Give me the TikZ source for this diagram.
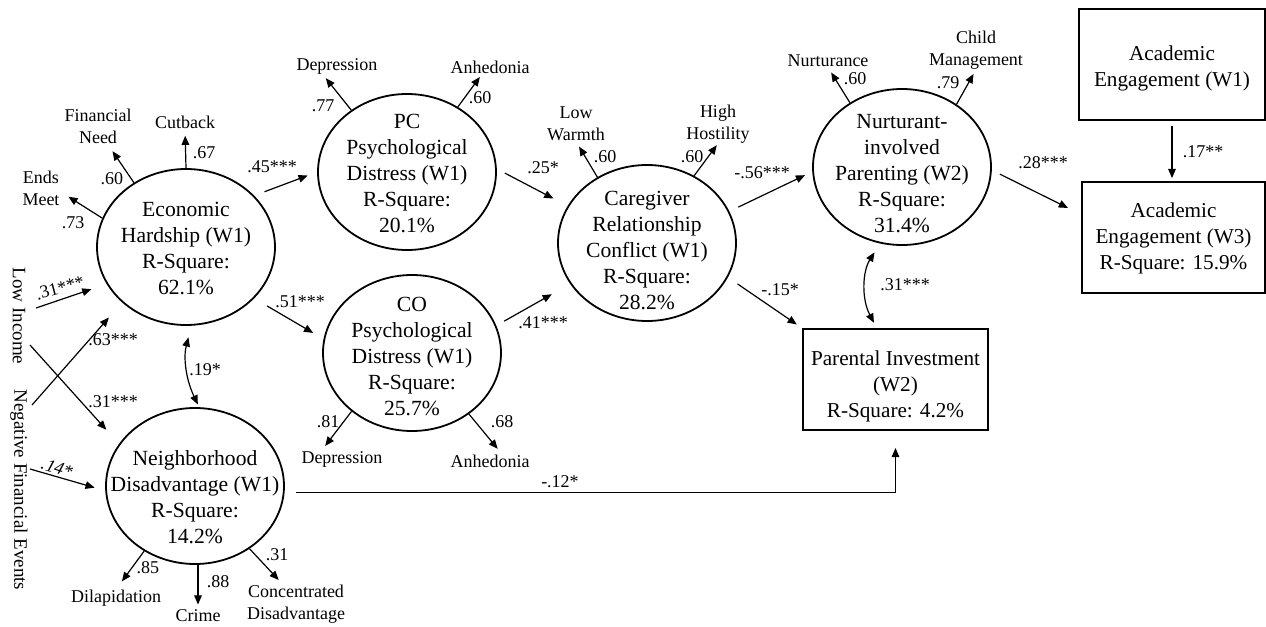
\documentclass[tikz,border=0pt]{standalone}
\usepackage{fontspec}
\setmainfont{Liberation Serif}
\usetikzlibrary{arrows.meta,calc,shapes.geometric}
\tikzset{
  latv/.style={draw, line width=0.9pt, ellipse, minimum width=89pt, minimum height=78pt, inner sep=0pt},
  lattext/.style={align=center, inner sep=0pt, font=\fontsize{10.8}{13}\selectfont},
  obsbox/.style={draw, line width=0.9pt, rectangle, inner sep=0pt, align=center, font=\fontsize{10.6}{13}\selectfont},
  arr/.style={-{Triangle[length=4.6pt,width=3.8pt]}, line width=0.6pt},
  darr/.style={{Triangle[length=4.6pt,width=3.8pt]}-{Triangle[length=4.6pt,width=3.8pt]}, line width=0.6pt},
  coef/.style={inner sep=0pt, font=\fontsize{9}{11}\selectfont},
  ind/.style={inner sep=0pt, align=center, font=\fontsize{9}{11}\selectfont},
  exo/.style={inner sep=0pt, rotate=-90, font=\fontsize{9.5}{11}\selectfont},
}
\begin{document}
\begin{tikzpicture}[x=0.5pt,y=-0.5pt]
\useasboundingbox (0,0) rectangle (1266,627);

% latent variables
\node[latv] (ecoh) at (186,247) {};
\node[lattext] (ecoht) at ([yshift=-0.6pt]ecoh.center) {Economic\\Hardship (W1)\\R-Square:\\62.1\%};
\node[latv] (neigh) at (195,486) {};
\node[lattext] (neight) at ([yshift=-5.5pt]neigh.center) {Neighborhood\\Disadvantage (W1)\\R-Square:\\14.2\%};
\node[latv] (pc) at (407,172) {};
\node[lattext] (pct) at ([yshift=-0.8pt]pc.center) {PC\\Psychological\\Distress (W1)\\R-Square:\\20.1\%};
\node[latv] (co) at (412,353) {};
\node[lattext] (cot) at ([yshift=-1.8pt]co.center) {CO\\Psychological\\Distress (W1)\\R-Square:\\25.7\%};
\node[latv] (care) at (647,243) {};
\node[lattext] (caret) at ([yshift=-3.5pt]care.center) {Caregiver\\Relationship\\Conflict (W1)\\R-Square:\\28.2\%};
\node[latv] (nurt) at (902,167) {};
\node[lattext] (nurtt) at ([yshift=-3.2pt]nurt.center) {Nurturant-\\involved\\Parenting (W2)\\R-Square:\\31.4\%};

% observed boxes
\node[obsbox, minimum width=93pt, minimum height=55.5pt] (ae1) at (1172,64.5) {};
\node[obsbox, draw=none] (ae1t) at ([yshift=-1.8pt]ae1.center) {Academic\\Engagement (W1)};
\node[obsbox, minimum width=91.5pt, minimum height=55.5pt] (ae3) at (1173.5,237.5) {};
\node[obsbox, draw=none] (ae3t) at ([yshift=-0.4pt]ae3.center) {Academic\\Engagement (W3)\\R-Square: 15.9\%};
\node[obsbox, minimum width=92.5pt, minimum height=50.5pt] (parinv) at (895.5,379.5) {};
\node[obsbox, draw=none] (parinvt) at ([yshift=-3.3pt]parinv.center) {Parental Investment\\(W2)\\R-Square: 4.2\%};

% exogenous
\node[exo] (lowinc) at (19,316) {Low Income};
\node[exo] (negfin) at (19,490) {Negative Financial Events};

% indicators
\node[ind] (endsmeet) at (41,188) {Ends\\Meet};
\node[ind] (finneed) at (98,126) {Financial\\Need};
\node[ind] (cutback) at (185,122) {Cutback};
\node[ind] (dilap) at (116,598) {Dilapidation};
\node[ind] (crime) at (198,616) {Crime};
\node[ind] (concdis) at (296,604) {Concentrated\\Disadvantage};
\node[ind] (pcdep) at (337,66) {Depression};
\node[ind] (pcanh) at (490,67) {Anhedonia};
\node[ind] (codep) at (342,459) {Depression};
\node[ind] (coanh) at (490,461) {Anhedonia};
\node[ind] (lowwarm) at (576,124) {Low\\Warmth};
\node[ind] (hihost) at (718,124) {High\\Hostility};
\node[ind] (nurturance) at (828,61) {Nurturance};
\node[ind] (childm) at (976,50) {Child\\Management};

% structural paths
\draw[arr, shorten <=5.5pt, shorten >=5pt] (ecoh.37) -- (pc.180);
\draw[arr, shorten <=7.5pt, shorten >=6pt] (ecoh.-37) -- (co.171);
\draw[arr, shorten <=4.5pt, shorten >=8pt] (pc.2) -- (care.155);
\draw[arr, shorten <=4.5pt, shorten >=10.5pt] (co.18) -- (care.-152);
\draw[arr, shorten <=5pt, shorten >=4pt] (care.21) -- (nurt.183);
\draw[arr, shorten <=5.8pt, shorten >=3.2pt] (care.-23) -- (parinv.north west);
\draw[arr, shorten <=4.5pt, shorten >=7.3pt] (nurt.-2) -- (ae3.166);
\draw[arr, shorten <=2.5pt, shorten >=1.5pt] (ae1.south) -- (ae1.south |- ae3.north);
\draw[darr, shorten <=5.2pt, shorten >=3pt] (nurt.-106) to[bend right=30] (parinv.110);
\draw[darr, shorten <=6pt, shorten >=1.5pt] (ecoh.-86) to[bend right=20] (neigh.87);
\draw[arr, shorten <=5.7pt, shorten >=8.5pt] (neigh.-4.5) -| (parinv.south);

% exogenous paths
\draw[arr, shorten >=8pt] ($(lowinc)+(17,-8)$) -- (ecoh.-155);
\draw[arr, shorten >=9.5pt] ($(lowinc)+(11,29)$) -- (neigh.151);
\draw[arr, shorten >=10pt] ($(negfin)+(13,-85)$) -- (ecoh.-139);
\draw[arr, shorten >=5.5pt] ($(negfin)+(11,-21)$) -- (neigh.-177);

% measurement paths
\draw[arr, shorten >=5pt] (ecoh.161) -- (endsmeet.-10);
\draw[arr, shorten >=4.5pt] (ecoh.129) -- (finneed.-62);
\draw[arr, shorten >=3.5pt] (ecoh.90) -- (cutback.south);
\draw[arr, shorten >=5pt] (neigh.-128) -- (dilap.north);
\draw[arr, shorten >=2.5pt] (crime.north |- neigh.south) -- (crime.north);
\draw[arr, shorten >=3pt] (neigh.-49) -- (concdis.124);
\draw[arr, shorten >=2.5pt] (pc.132) -- (pcdep.-150);
\draw[arr, shorten >=2pt] (pc.52) -- (pcanh.-139);
\draw[arr, shorten >=3pt] (co.-136) -- (codep.158);
\draw[arr, shorten >=3.5pt] (co.-47) -- (coanh.29);
\draw[arr, shorten >=3pt] (care.127) -- (lowwarm.south);
\draw[arr, shorten >=1pt] (care.55) -- (hihost.south);
\draw[arr, shorten >=3pt] (nurt.129) -- (nurturance.south);
\draw[arr, shorten >=2.5pt] (nurt.49) -- (childm.south);

% coefficients
\node[coef] (c1) at (272,167) {.45***};
\node[coef] (c2) at (300,302) {.51***};
\node[coef] (c3) at (543,168) {.25*};
\node[coef] (c4) at (543,323) {.41***};
\node[coef] (c5) at (762,173) {-.56***};
\node[coef] (c6) at (780,290) {-.15*};
\node[coef] (c7) at (1043,163) {.28***};
\node[coef] (c8) at (1203,152) {.17**};
\node[coef] (c9) at (905,285) {.31***};
\node[coef] (c10) at (560,482) {-.12*};
\node[coef] (c11) at (205,370) {.19*};
\node[coef, rotate=15] (c12) at (60,288) {.31***};
\node[coef] (c13) at (113,340) {.63***};
\node[coef] (c14) at (113,402) {.31***};
\node[coef, rotate=-18] (c15) at (57,468) {\itshape .14*};

\node[coef] (m1) at (73,223) {.73};
\node[coef] (m2) at (112,179) {.60};
\node[coef] (m3) at (204,153) {.67};
\node[coef] (m4) at (148,568) {.85};
\node[coef] (m5) at (218,582) {.88};
\node[coef] (m6) at (277,555) {.31};
\node[coef] (m7) at (323,106) {.77};
\node[coef] (m8) at (480,98) {.60};
\node[coef] (m9) at (328,422) {.81};
\node[coef] (m10) at (502,422) {.68};
\node[coef] (m11) at (605,157) {.60};
\node[coef] (m12) at (692,157) {.60};
\node[coef] (m13) at (855,79) {.60};
\node[coef] (m14) at (948,83) {.79};
\end{tikzpicture}
\end{document}
